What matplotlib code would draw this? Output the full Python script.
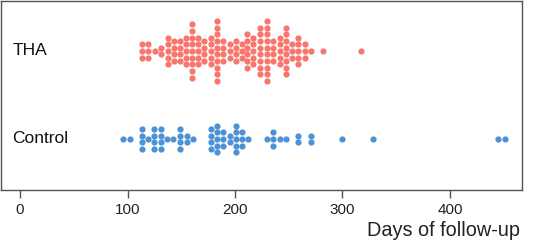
import numpy as np
import matplotlib
matplotlib.use('Agg')
import matplotlib.pyplot as plt

# days of follow-up, grouped: value of each column and how many patients in it
tha_days = [113.5, 119.5, 125.6, 131.2, 137.2, 142.8, 148.4, 154.0, 160.0, 165.6,
            171.6, 177.4, 183.3, 189.1, 195.0, 200.7, 206.2, 211.6, 217.2, 223.3,
            229.5, 235.8, 241.4, 247.0, 252.7, 258.6, 265.1, 270.7, 282.3, 317.2]
tha_n = [3, 3, 1, 2, 5, 4, 4, 5, 9, 5,
         4, 5, 10, 4, 3, 4, 3, 6, 5, 8,
         10, 4, 5, 8, 3, 5, 3, 1, 1, 1]

ctrl_days = [95.5, 102.3, 113.5, 119.5, 125.1, 130.9, 136.7, 142.6, 148.6, 154.9,
             160.5, 177.7, 183.3, 189.1, 194.9, 200.7, 206.5, 212.4, 229.5, 235.6,
             241.9, 247.4, 258.9, 270.7, 299.3, 328.7, 444.4, 451.2]
ctrl_n = [1, 1, 4, 1, 4, 4, 1, 1, 4, 2,
          1, 4, 5, 3, 2, 5, 3, 1, 1, 3,
          1, 1, 2, 2, 1, 1, 1, 1]

groups = ['THA', 'Control']
colors = ['#F8766D', '#4C92D6']

plt.rcParams['font.family'] = ['Liberation Sans', 'DejaVu Sans']

fig = plt.figure(figsize=(5.34, 2.40), dpi=100)
ax = fig.add_axes([1/534, 50/240, 521/534, 189/240])

dy = 0.076  # vertical step between stacked dots


def stack(days, counts, y0):
    xs, ys = [], []
    for d, n in zip(days, counts):
        for k in range(n):
            xs.append(d)
            ys.append(y0 + (k - (n - 1) / 2) * dy)
    return xs, ys


for i, (days, counts) in enumerate([(tha_days, tha_n), (ctrl_days, ctrl_n)]):
    y0 = 1 - i
    xs, ys = stack(days, counts, y0)
    ax.scatter(xs, ys, s=20, color=colors[i], linewidths=0, zorder=3)
    ax.text(-7, y0, groups[i], ha='left', va='center', fontsize=12.5,
            color='#111111')

ax.set_xlim(-17.7, 467)
ax.set_ylim(-0.58, 1.568)
ax.set_yticks([])
ax.set_xticks([0, 100, 200, 300, 400])
ax.tick_params(axis='x', length=6, width=1, color='#555555', labelsize=11,
               labelcolor='#222222', pad=3)
for sp in ax.spines.values():
    sp.set_color('#555555')
    sp.set_linewidth(1)

fig.text(520/534, 1 - 231/240, 'Days of follow-up', ha='right', va='center',
         fontsize=14.3, color='#222222')

fig.savefig('out.png', dpi=100)
